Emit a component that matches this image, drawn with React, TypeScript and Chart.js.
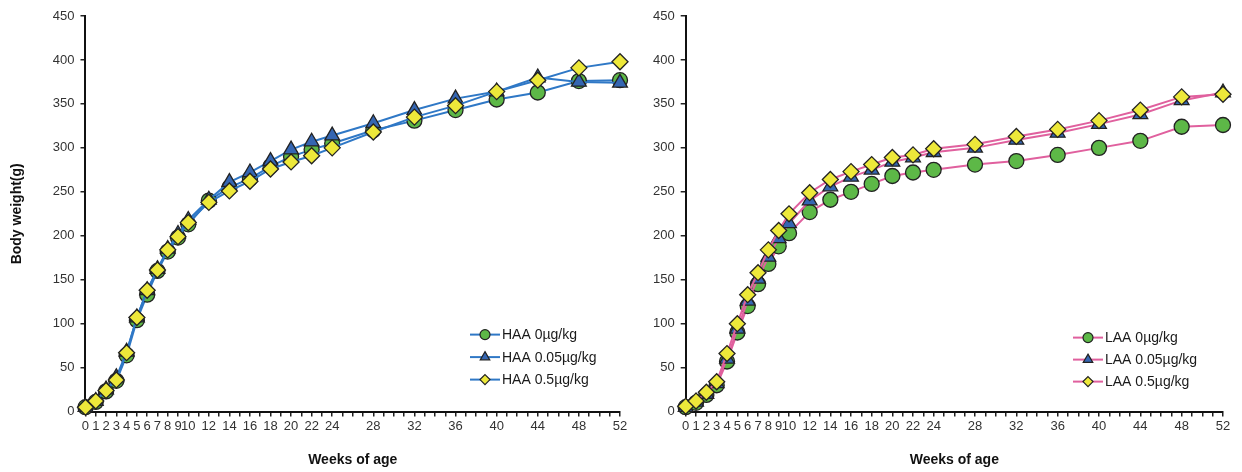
import React, { useEffect, useRef } from 'react';
import { Chart, registerables } from 'chart.js';

Chart.register(...registerables);

// ---- data ----
const weeks = [0, 1, 2, 3, 4, 5, 6, 7, 8, 9, 10, 12, 14, 16, 18, 20, 22, 24, 28, 32, 36, 40, 44, 48, 52];
const xTickLabels = [0, 1, 2, 3, 4, 5, 6, 7, 8, 9, 10, 12, 14, 16, 18, 20, 22, 24, 28, 32, 36, 40, 44, 48, 52];
const xMinorTicks = [0, 1, 2, 3, 4, 5, 6, 7, 8, 9, 10, 11, 12, 13, 14, 15, 16, 17, 18, 19, 20, 21, 22, 23, 24, 25, 26, 27, 28, 29, 30, 31, 32, 33, 34, 35, 36, 37, 38, 39, 40, 41, 42, 43, 44, 45, 46, 47, 48, 49, 50, 51, 52];

const haa0 = [5, 11, 23, 35, 64, 104, 133, 160, 182, 198, 213, 240, 255, 265, 279, 290, 298, 305, 320, 331, 343, 355, 363, 376, 377];
const haa005 = [5, 12, 25, 39, 68, 107, 138, 162, 185, 202, 218, 241, 261, 272, 285, 298, 307, 314, 328, 343, 356, 364, 380, 375, 374];
const haa05 = [5, 12, 24, 36, 67, 107, 138, 161, 184, 199, 215, 238, 251, 262, 276, 284, 291, 300, 318, 335, 348, 364, 377, 391, 398];

const laa0 = [5, 10, 19, 30, 57, 90, 120, 145, 168, 188, 203, 227, 241, 250, 259, 268, 272, 275, 281, 285, 292, 300, 308, 324, 326];
const laa005 = [5, 11, 20, 32, 60, 94, 126, 151, 176, 197, 214, 240, 256, 267, 275, 284, 289, 295, 300, 309, 317, 327, 338, 354, 363];
const laa05 = [6, 12, 22, 34, 66, 100, 133, 158, 184, 206, 225, 249, 264, 273, 281, 289, 292, 299, 304, 313, 321, 331, 343, 358, 361];

const haaLabels = ['HAA 0µg/kg', 'HAA 0.05µg/kg', 'HAA 0.5µg/kg'];
const laaLabels = ['LAA 0µg/kg', 'LAA 0.05µg/kg', 'LAA 0.5µg/kg'];

const FONT = '"Liberation Sans", Arial, sans-serif';

const markerStyles = [
  { style: 'circle', fill: '#5DB847', r: 7.5, lr: 5 },
  { style: 'triangle', fill: '#3566B2', r: 8.5, lr: 5.5 },
  { style: 'rectRot', fill: '#EDE83A', r: 8, lr: 5 },
];

function drawMarker(ctx: CanvasRenderingContext2D, style: string, x: number, y: number, r: number, fill: string) {
  ctx.beginPath();
  if (style === 'circle') {
    ctx.arc(x, y, r, 0, Math.PI * 2);
  } else if (style === 'triangle') {
    for (let k = 0; k < 3; k++) {
      const a = (k * 2 * Math.PI) / 3;
      const px = x + Math.sin(a) * r;
      const py = y - Math.cos(a) * r;
      if (k === 0) ctx.moveTo(px, py);
      else ctx.lineTo(px, py);
    }
    ctx.closePath();
  } else {
    ctx.moveTo(x, y - r);
    ctx.lineTo(x + r, y);
    ctx.lineTo(x, y + r);
    ctx.lineTo(x - r, y);
    ctx.closePath();
  }
  ctx.fillStyle = fill;
  ctx.fill();
  ctx.lineWidth = 1.2;
  ctx.strokeStyle = '#222';
  ctx.stroke();
}

const insideLegend = {
  id: 'insideLegend',
  afterDraw(chart: any, _args: any, opts: any) {
    const { ctx, chartArea } = chart;
    const x0 = chartArea.right + opts.dx;
    const y0 = chartArea.bottom + opts.dy;
    chart.data.datasets.forEach((ds: any, i: number) => {
      const y = y0 + i * opts.gap;
      const m = markerStyles[i];
      ctx.save();
      ctx.strokeStyle = ds.borderColor;
      ctx.lineWidth = 2;
      ctx.beginPath();
      ctx.moveTo(x0, y);
      ctx.lineTo(x0 + 30, y);
      ctx.stroke();
      drawMarker(ctx, m.style, x0 + 15, y, m.lr, m.fill);
      ctx.fillStyle = '#1a1a1a';
      ctx.font = `14px ${FONT}`;
      ctx.textBaseline = 'middle';
      ctx.textAlign = 'left';
      ctx.fillText(ds.label, x0 + 32, y + 1);
      ctx.restore();
    });
  },
};

function buildConfig(series: number[][], labels: string[], lineColor: string, showYTitle: boolean, padding: any, legendOpts: any): any {
  const datasets = series.map((vals, i) => ({
    label: labels[i],
    data: weeks.map((w, j) => ({ x: w, y: vals[j] })),
    borderColor: lineColor,
    backgroundColor: lineColor,
    borderWidth: 2,
    tension: 0,
    fill: false,
    clip: false,
    pointStyle: markerStyles[i].style,
    pointRadius: markerStyles[i].r,
    pointBackgroundColor: markerStyles[i].fill,
    pointBorderColor: '#222',
    pointBorderWidth: 1.3,
    order: 2 - i,
  }));
  return {
    type: 'line',
    data: { datasets },
    plugins: [insideLegend],
    options: {
      animation: false,
      responsive: false,
      maintainAspectRatio: false,
      devicePixelRatio: 1,
      layout: { padding },
      plugins: {
        legend: { display: false },
        tooltip: { enabled: false },
        insideLegend: legendOpts,
      },
      scales: {
        x: {
          type: 'linear',
          min: 0,
          max: 52,
          afterBuildTicks: (scale: any) => {
            scale.ticks = xMinorTicks.map((v) => ({ value: v }));
          },
          ticks: {
            autoSkip: false,
            maxRotation: 0,
            minRotation: 0,
            padding: 2,
            color: '#333',
            font: { family: FONT, size: 13 },
            callback: (v: any) => (xTickLabels.includes(Number(v)) ? String(v) : ''),
          },
          grid: { drawOnChartArea: false, drawTicks: true, tickLength: 5, color: '#222', lineWidth: 1.5 },
          border: { color: '#111', width: 2 },
          title: {
            display: true,
            text: 'Weeks of age',
            color: '#111',
            font: { family: FONT, size: 14, weight: 'bold' },
            padding: { top: 16, bottom: 0 },
          },
        },
        y: {
          type: 'linear',
          min: 0,
          max: 450,
          ticks: {
            stepSize: 50,
            padding: 6,
            color: '#333',
            font: { family: FONT, size: 13 },
          },
          grid: { drawOnChartArea: false, drawTicks: true, tickLength: 5, color: '#222', lineWidth: 1.5 },
          border: { color: '#111', width: 2 },
          title: {
            display: showYTitle,
            text: 'Body weight(g)',
            color: '#111',
            font: { family: FONT, size: 14, weight: 'bold' },
            padding: { top: 0, bottom: 21 },
          },
        },
      },
    },
  };
}

function ChartCanvas({ config, width, height, left }: { config: any; width: number; height: number; left: number }) {
  const ref = useRef<HTMLCanvasElement>(null);
  useEffect(() => {
    if (!ref.current) return;
    const chart = new Chart(ref.current, config);
    return () => chart.destroy();
  }, []);
  return (
    <canvas
      ref={ref}
      width={width}
      height={height}
      style={{ position: 'absolute', left, top: 0, width, height, display: 'block' }}
    />
  );
}

export default function App() {
  const leftCfg = buildConfig(
    [haa0, haa005, haa05],
    haaLabels,
    '#2F78C6',
    true,
    { left: 9, right: 10, top: 16, bottom: 3 },
    { dx: -150, dy: -77, gap: 22.5 }
  );
  const rightCfg = buildConfig(
    [laa0, laa005, laa05],
    laaLabels,
    '#E0609E',
    false,
    { left: 17, right: 19, top: 16, bottom: 3 },
    { dx: -150, dy: -74, gap: 22 }
  );
  return (
    <div style={{ position: 'absolute', left: 0, top: 0, width: 1242, height: 472, background: '#fff', overflow: 'hidden' }}>
      <ChartCanvas config={leftCfg} width={630} height={472} left={0} />
      <ChartCanvas config={rightCfg} width={612} height={472} left={630} />
    </div>
  );
}
